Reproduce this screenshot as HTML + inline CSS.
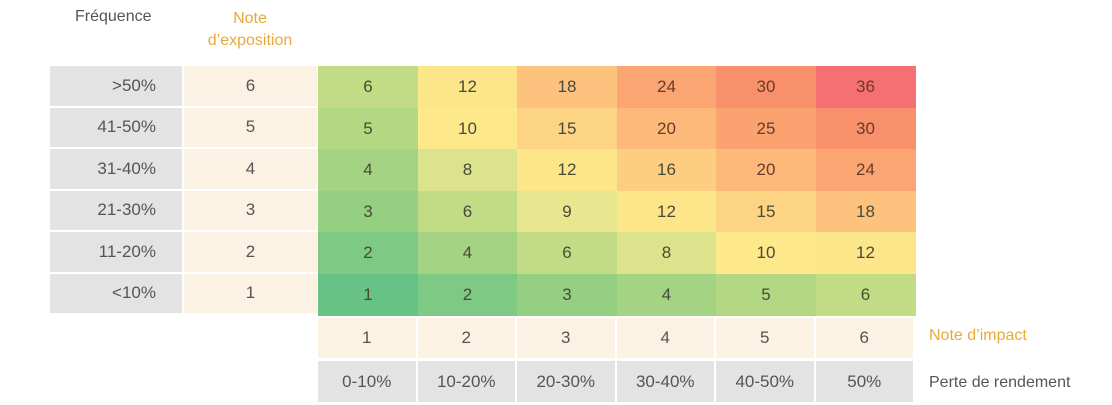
<!DOCTYPE html>
<html><head><meta charset="utf-8">
<style>
body{margin:0;width:1112px;height:405px;background:#fff;font-family:"Liberation Sans",sans-serif;overflow:hidden;position:relative}
.c{position:absolute;display:flex;align-items:center;justify-content:center;font-size:17px;color:#555;box-sizing:border-box}
.t{position:absolute;font-size:16px}
</style></head><body>
<div class="t" style="left:75px;top:8px;color:#555">Fréquence</div>
<div class="t" style="left:200px;top:8px;width:100px;text-align:center;color:#e8a93a;line-height:22px">Note<br>d’exposition</div>
<div class="t" style="left:929px;top:327px;color:#e8a93a">Note d’impact</div>
<div class="t" style="left:929px;top:374px;color:#555">Perte de rendement</div>
<div id="grid"></div>
<script>
const freqLabels=['>50%','41-50%','31-40%','21-30%','11-20%','<10%'];
const exposure=[6,5,4,3,2,1];
const impact=[1,2,3,4,5,6];
const lossLabels=['0-10%','10-20%','20-30%','30-40%','40-50%','50%'];
const x0=318,cw=99.5,y0=66,rh=41.5;
const stops=[[1,[102,194,133]],[3,[149,207,130]],[6,[194,220,133]],[9,[232,230,143]],[10,[253,233,138]],[12,[253,229,138]],[18,[253,194,126]],[24,[251,166,114]],[30,[249,144,108]],[36,[244,112,114]]];
function col(v){for(let i=1;i<stops.length;i++){if(v<=stops[i][0]){const a=stops[i-1],b=stops[i],t=(v-a[0])/(b[0]-a[0]);return 'rgb('+a[1].map((c,k)=>Math.round(c+(b[1][k]-c)*t)).join(',')+')';}}return 'rgb(244,112,114)';}
const g=document.getElementById('grid');
function cell(x,y,w,h,bg,txt,color){const d=document.createElement('div');d.className='c';d.style.cssText+=`left:${x}px;top:${y}px;width:${w}px;height:${h}px;background:${bg};color:${color||'#555'}`;d.textContent=txt;g.appendChild(d);return d;}
exposure.forEach((e,r)=>{
 const y=y0+r*rh;
 let d=cell(50,y,132,rh-2,'#e4e3e4',freqLabels[r]);d.style.justifyContent='flex-end';d.style.paddingRight='26px';
 
 
 d=cell(184,y,133,rh-2,'#fcf2e3',e);
 
 
 impact.forEach((im,c)=>{const v=e*im;
  const d2=cell(x0+c*cw,y,cw+0.5,rh+0.5,col(v),v,v>=20?'#6a3a2a':'#4a4a3a');
  
  
 });
});
impact.forEach((im,c)=>{
 let d=cell(x0+c*cw,318,cw-2,40,'#fcf2e3',im);
 
 
 d=cell(x0+c*cw,361,cw-2,41,'#e4e3e4',lossLabels[c]);
 
 
});
</script>
</body></html>
